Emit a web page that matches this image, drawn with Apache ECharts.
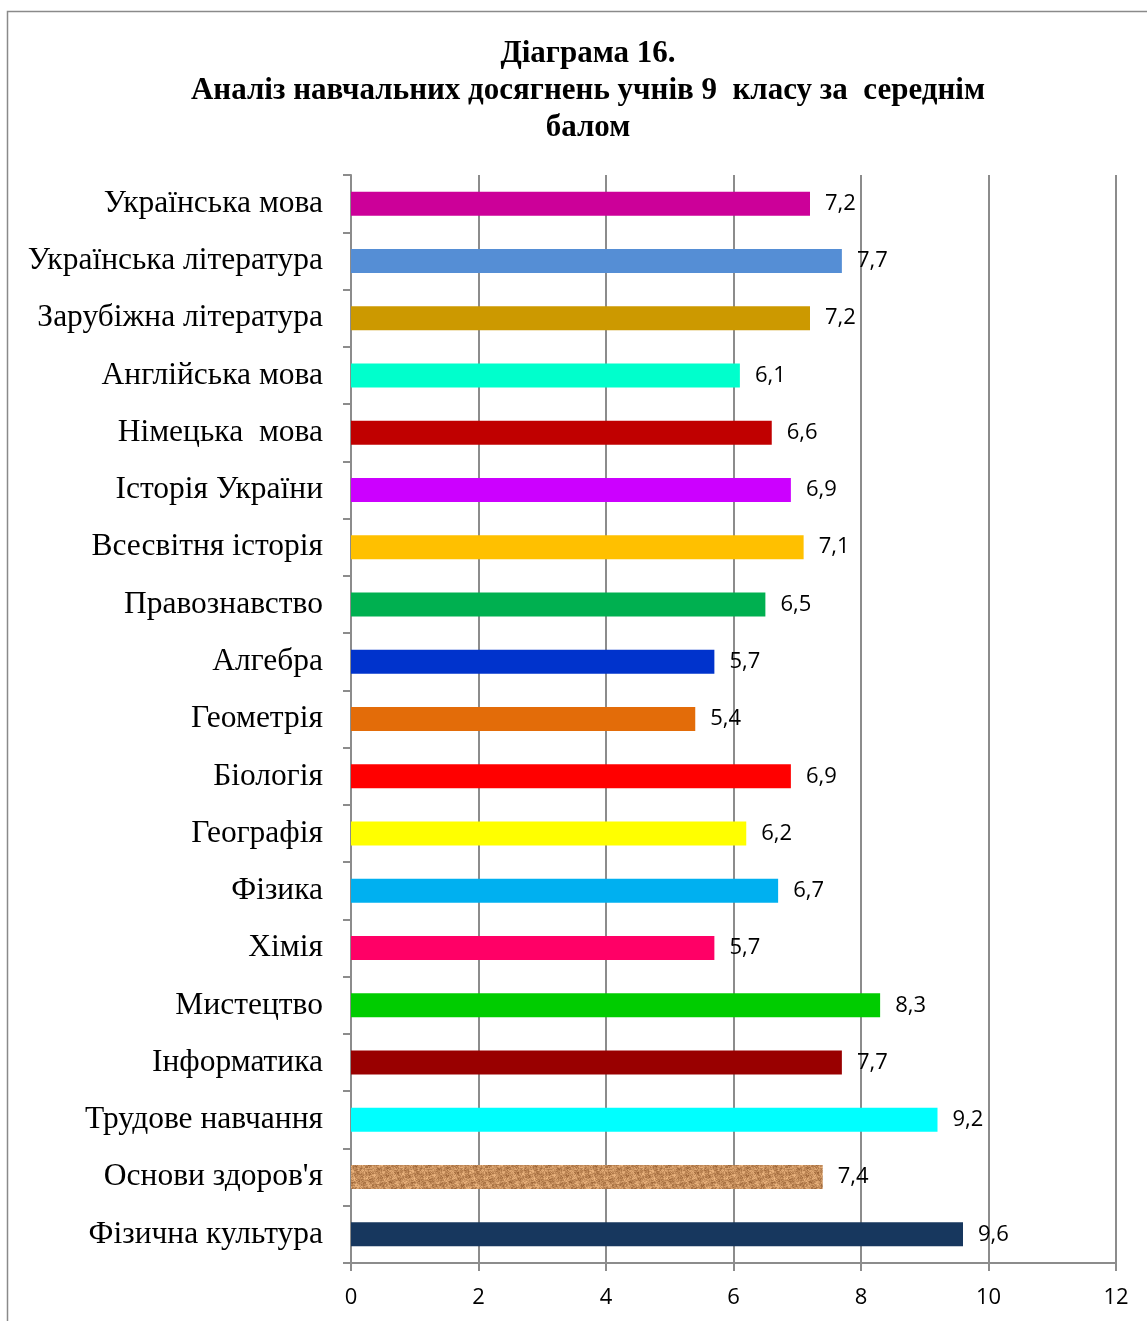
<!DOCTYPE html>
<html>
<head>
<meta charset="utf-8">
<script src="https://cdn.jsdelivr.net/npm/echarts@6/dist/echarts.min.js"></script>
<style>
  html, body { margin: 0; padding: 0; background: #fff; }
  #chart { width: 1147px; height: 1321px; }
</style>
</head>
<body>
<div id="chart"></div>
<script>
var subjects = ['Українська мова', 'Українська література', 'Зарубіжна література', 'Англійська мова',
  'Німецька  мова', 'Історія України', 'Всесвітня історія', 'Правознавство', 'Алгебра', 'Геометрія',
  'Біологія', 'Географія', 'Фізика', 'Хімія', 'Мистецтво', 'Інформатика', 'Трудове навчання',
  "Основи здоров'я", 'Фізична культура'];
var scores = [7.2, 7.7, 7.2, 6.1, 6.6, 6.9, 7.1, 6.5, 5.7, 5.4, 6.9, 6.2, 6.7, 5.7, 8.3, 7.7, 9.2, 7.4, 9.6];
var barColors = ['#cc0099', '#558ed5', '#cc9900', '#00ffcc', '#c00000', '#cc00ff', '#ffc000', '#00b050',
  '#0033cc', '#e36c09', '#ff0000', '#ffff00', '#00b0f0', '#ff0066', '#00cc00', '#990000', '#00ffff',
  'texture', '#17375e'];
var xTicks = [0, 2, 4, 6, 8, 10, 12];

// cork-like texture for the "Основи здоров'я" bar, built from a fixed hash (no randomness)
function makeCork() {
  var w = 60, h = 30;
  var c = document.createElement('canvas');
  c.width = w; c.height = h;
  var ctx = c.getContext('2d');
  var img = ctx.createImageData(w, h);
  for (var y = 0; y < h; y++) {
    for (var x = 0; x < w; x++) {
      var n = Math.imul(x * 374761393 + y * 668265263, 1274126177) >>> 0;
      n = ((n ^ (n >>> 13)) >>> 0) % 1000 / 1000;
      var blob = Math.sin(x * 0.45 + y * 0.3) * Math.cos(x * 0.2 - y * 0.55);
      var t = 0.55 * n + 0.45 * (blob * 0.5 + 0.5);
      var k = (y * w + x) * 4;
      img.data[k] = 150 + t * 95;
      img.data[k + 1] = 95 + t * 95;
      img.data[k + 2] = 50 + t * 85;
      img.data[k + 3] = 255;
    }
  }
  ctx.putImageData(img, 0, 0);
  return c;
}
var cork = makeCork();

var chart = echarts.init(document.getElementById('chart'));
var option = {
  animation: false,
  backgroundColor: '#fff',
  graphic: [{
    type: 'rect',
    shape: { x: 7.5, y: 11.5, width: 1160, height: 1330 },
    style: { fill: null, stroke: '#8a8a8a', lineWidth: 1.5 }
  }],
  title: {
    text: 'Діаграма 16.\nАналіз навчальних досягнень учнів 9  класу за  середнім\nбалом',
    left: 583,
    textAlign: 'center',
    top: 30,
    textStyle: {
      fontFamily: 'Liberation Serif',
      fontWeight: 'bold',
      fontSize: 31,
      lineHeight: 37,
      color: '#000'
    }
  },
  grid: { left: 351, right: 31, top: 175, bottom: 58 },
  xAxis: {
    type: 'value',
    min: 0,
    max: 12,
    interval: 2,
    axisLine: { show: true, lineStyle: { color: '#8c8c8c', width: 2 } },
    axisTick: { show: true, length: 8, lineStyle: { color: '#8c8c8c', width: 2 } },
    splitLine: { show: true, lineStyle: { color: '#8c8c8c', width: 2 } },
    axisLabel: {
      margin: 24,
      fontFamily: 'Open Sans',
      fontSize: 22,
      color: '#000',
      formatter: function (v) { return xTicks.indexOf(v) >= 0 ? String(v) : ''; }
    }
  },
  yAxis: {
    type: 'category',
    inverse: true,
    data: subjects,
    axisLine: { show: true, lineStyle: { color: '#8c8c8c', width: 2 } },
    axisTick: { show: true, length: 8, lineStyle: { color: '#8c8c8c', width: 2 } },
    axisLabel: {
      margin: 28,
      padding: [4, 0, 0, 0],
      fontFamily: 'Liberation Serif',
      fontSize: 31.5,
      color: '#000'
    }
  },
  series: [{
    type: 'bar',
    barWidth: 24,
    data: scores.map(function (v, i) {
      var col = barColors[i] === 'texture'
        ? { image: cork, repeat: 'repeat' }
        : barColors[i];
      return { value: v, itemStyle: { color: col } };
    }),
    label: {
      show: true,
      position: 'right',
      distance: 15,
      padding: [4, 0, 0, 0],
      fontFamily: 'Open Sans',
      fontSize: 22,
      color: '#000',
      formatter: function (p) { return String(p.value).replace('.', ','); }
    }
  }]
};
chart.setOption(option);
</script>
</body>
</html>
